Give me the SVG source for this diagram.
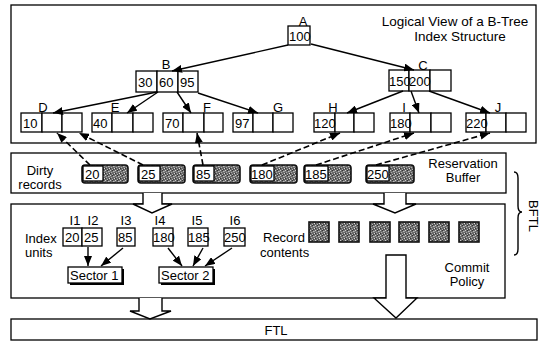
<svg xmlns="http://www.w3.org/2000/svg" width="542" height="342" viewBox="0 0 542 342">
<style>
text{font-family:"Liberation Sans",Arial,sans-serif;font-size:13px;fill:#000}
.c{text-anchor:middle}
.box{fill:#fff;stroke:#000;stroke-width:1.3}
.frame{fill:none;stroke:#000;stroke-width:1.3}
.ln{fill:none;stroke:#000;stroke-width:1.4;marker-end:url(#ah)}
.dl{fill:none;stroke:#000;stroke-width:1.6;stroke-dasharray:6,3;marker-end:url(#ah)}
.blk{fill:#fff;stroke:#000;stroke-width:1.4;stroke-linejoin:miter}
.rec{fill:url(#stip);stroke:#111;stroke-width:1.6}
</style>
<defs>
<marker id="ah" viewBox="0 0 10 8" refX="10" refY="4" markerWidth="10" markerHeight="8" markerUnits="userSpaceOnUse" orient="auto"><path d="M0,0 L10,4 L0,8 z" fill="#000"/></marker>
<pattern id="stip" width="5" height="5" patternUnits="userSpaceOnUse"><rect width="5" height="5" fill="#6a6a6a"/><rect x="0" y="0" width="1" height="1" fill="#ccc"/><rect x="3" y="1" width="1" height="1" fill="#bbb"/><rect x="1" y="2" width="1" height="1" fill="#aaa"/><rect x="4" y="3" width="1" height="1" fill="#ddd"/><rect x="2" y="4" width="1" height="1" fill="#b5b5b5"/><rect x="2" y="0" width="1" height="1" fill="#333"/><rect x="0" y="3" width="1" height="1" fill="#333"/><rect x="4" y="1" width="1" height="1" fill="#999"/><rect x="3" y="4" width="1" height="1" fill="#444"/></pattern>
</defs>
<rect width="542" height="342" fill="#fff"/>

<g id="frames">
<rect class="frame" x="11" y="5" width="525" height="138"/>
<rect class="frame" x="11" y="153" width="495" height="40"/>
<rect class="frame" x="11" y="204" width="494" height="94"/>
<rect class="frame" x="11" y="319" width="526" height="21"/>
</g>

<g id="title">
<text x="455" y="26" class="c" style="font-size:13.5px">Logical View of a B-Tree</text>
<text x="460" y="41" class="c" style="font-size:13.5px">Index Structure</text>
</g>

<g id="nodeA">
<rect class="box" x="288" y="26" width="22" height="19"/>
<text x="289" y="41">100</text>
<text x="303" y="26" class="c">A</text>
</g>
<g id="nodeB">
<rect class="box" x="136" y="71" width="21" height="21"/>
<rect class="box" x="157" y="71" width="21" height="21"/>
<rect class="box" x="178" y="71" width="20" height="21"/>
<text x="138" y="87">30</text><text x="159" y="87">60</text><text x="180" y="87">95</text>
<text x="166" y="69" class="c">B</text>
</g>
<g id="nodeC">
<rect class="box" x="389" y="70" width="20" height="21"/>
<rect class="box" x="409" y="70" width="21" height="21"/>
<rect class="box" x="430" y="70" width="21" height="21"/>
<text x="389" y="86">150</text><text x="409" y="86">200</text>
<text x="423" y="70" class="c">C</text>
</g>
<g id="nodeD">
<rect class="box" x="21" y="113" width="21" height="19"/><rect class="box" x="42" y="113" width="20" height="19"/><rect class="box" x="62" y="113" width="20" height="19"/>
<text x="23" y="128">10</text><text x="43" y="112" class="c">D</text>
</g>
<g id="nodeE">
<rect class="box" x="92" y="113" width="20" height="19"/><rect class="box" x="112" y="113" width="21" height="19"/><rect class="box" x="133" y="113" width="20" height="19"/>
<text x="93" y="128">40</text><text x="115" y="112" class="c">E</text>
</g>
<g id="nodeF">
<rect class="box" x="163" y="113" width="20" height="19"/><rect class="box" x="183" y="113" width="21" height="19"/><rect class="box" x="204" y="113" width="19" height="19"/>
<text x="165" y="128">70</text><text x="207" y="112" class="c">F</text>
</g>
<g id="nodeG">
<rect class="box" x="233" y="113" width="20" height="19"/><rect class="box" x="253" y="113" width="20" height="19"/><rect class="box" x="273" y="113" width="20" height="19"/>
<text x="235" y="128">97</text><text x="278" y="112" class="c">G</text>
</g>
<g id="nodeH">
<rect class="box" x="314" y="113" width="21" height="19"/><rect class="box" x="335" y="113" width="19" height="19"/><rect class="box" x="354" y="113" width="20" height="19"/>
<text x="314" y="128">120</text><text x="333" y="112" class="c">H</text>
</g>
<g id="nodeI">
<rect class="box" x="390" y="113" width="20" height="19"/><rect class="box" x="410" y="113" width="21" height="19"/><rect class="box" x="431" y="113" width="20" height="19"/>
<text x="390" y="128">180</text><text x="404" y="112" class="c">I</text>
</g>
<g id="nodeJ">
<rect class="box" x="466" y="113" width="20" height="19"/><rect class="box" x="486" y="113" width="20" height="19"/><rect class="box" x="506" y="113" width="20" height="19"/>
<text x="466" y="128">220</text><text x="498" y="112" class="c">J</text>
</g>

<g id="buffer">
<text x="40" y="175" class="c">Dirty</text>
<text x="40" y="189" class="c">records</text>
<text x="463" y="168" class="c">Reservation</text>
<text x="463" y="182" class="c">Buffer</text>
</g>
<g id="rec20"><rect class="rec" x="82" y="165" width="46" height="18" rx="3"/><rect class="box" x="83" y="166" width="20" height="15"/><text x="85" y="179">20</text></g>
<g id="rec25"><rect class="rec" x="138" y="165" width="47" height="18" rx="3"/><rect class="box" x="139" y="166" width="21" height="15"/><text x="141" y="179">25</text></g>
<g id="rec85"><rect class="rec" x="193" y="165" width="47" height="18" rx="3"/><rect class="box" x="194" y="166" width="20" height="15"/><text x="196" y="179">85</text></g>
<g id="rec180"><rect class="rec" x="250" y="165" width="47" height="18" rx="3"/><rect class="box" x="251" y="166" width="23" height="15"/><text x="251" y="179">180</text></g>
<g id="rec185"><rect class="rec" x="304" y="165" width="47" height="18" rx="3"/><rect class="box" x="305" y="166" width="23" height="15"/><text x="305" y="179">185</text></g>
<g id="rec250"><rect class="rec" x="366" y="165" width="48" height="18" rx="3"/><rect class="box" x="367" y="166" width="22" height="15"/><text x="367" y="179">250</text></g>

<g id="bftl">
<path d="M514,172 Q518,172 518,178 L518,206 Q518,212 522,212 Q518,212 518,218 L518,249 Q518,255 514,255" fill="none" stroke="#000" stroke-width="1.4"/>
<text x="529" y="216" class="c" transform="rotate(90 529 216)">BFTL</text>
</g>

<g id="indexunits">
<text x="25" y="243">Index</text>
<text x="25" y="257">units</text>
<rect class="box" x="63" y="228" width="19" height="18"/><rect class="box" x="82" y="228" width="20" height="18"/>
<rect class="box" x="117" y="228" width="18" height="18"/>
<rect class="box" x="153" y="228" width="20" height="18"/>
<rect class="box" x="188" y="228" width="20" height="18"/>
<rect class="box" x="224" y="228" width="21" height="18"/>
<text x="65" y="242">20</text><text x="84" y="242">25</text><text x="118" y="242">85</text>
<text x="153" y="242">180</text><text x="188" y="242">185</text><text x="224" y="242">250</text>
<text x="75" y="225" class="c">I1</text><text x="93" y="225" class="c">I2</text><text x="126" y="225" class="c">I3</text>
<text x="160" y="225" class="c">I4</text><text x="197" y="225" class="c">I5</text><text x="235" y="225" class="c">I6</text>
</g>
<g id="sector1"><rect x="70" y="269" width="54" height="16" fill="#000"/><rect class="box" x="68" y="267" width="54" height="16"/><text x="70" y="280">Sector 1</text></g>
<g id="sector2"><rect x="161" y="269" width="54" height="16" fill="#000"/><rect class="box" x="159" y="267" width="54" height="16"/><text x="161" y="280">Sector 2</text></g>

<g id="records">
<text x="263" y="242">Record</text>
<text x="260" y="257">contents</text>
<rect class="rec" x="309" y="222" width="20" height="20"/>
<rect class="rec" x="339" y="222" width="20" height="20"/>
<rect class="rec" x="370" y="222" width="20" height="20"/>
<rect class="rec" x="399" y="222" width="20" height="20"/>
<rect class="rec" x="429" y="222" width="20" height="20"/>
<rect class="rec" x="459" y="222" width="20" height="20"/>
</g>
<g id="commit">
<text x="467" y="272" class="c">Commit</text>
<text x="467" y="286" class="c">Policy</text>
</g>
<g id="ftl"><text x="276" y="335" class="c">FTL</text></g>

<g id="connectors">
<path class="ln" d="M288,45 L172,71"/>
<path class="ln" d="M311,44 L414,70"/>
<path class="ln" d="M157,92 L53,113"/>
<path class="ln" d="M158,92 L127,113"/>
<path class="ln" d="M177,92 L191,113"/>
<path class="ln" d="M198,93 L258,113"/>
<path class="ln" d="M403,91 L347,113"/>
<path class="ln" d="M411,91 L419,113"/>
<path class="ln" d="M429,91 L490,113"/>
<path class="dl" d="M90,165 L57,133"/>
<path class="dl" d="M143,165 L79,133"/>
<path class="dl" d="M203,165 L197,133"/>
<path class="dl" d="M262,165 L340,133"/>
<path class="dl" d="M316,165 L414,133"/>
<path class="dl" d="M376,165 L490,133"/>
<path class="ln" d="M88,247 L88,266"/>
<path class="ln" d="M123,248 L101,266"/>
<path class="ln" d="M168,248 L182,266"/>
<path class="ln" d="M203,248 L193,266"/>
<path class="ln" d="M232,248 L205,266"/>
<path class="blk" d="M143,193 L143,204 L133,204 L152,213 L172,204 L162,204 L162,193"/>
<path class="blk" d="M384,193 L384,204 L373,204 L395,213 L416,204 L406,204 L406,193"/>
<path class="blk" d="M139,298 L139,311 L130,311 L150,319 L171,311 L162,311 L162,298"/>
<path class="blk" d="M386,255 L386,298 L374,298 L396,318 L417,298 L406,298 L406,255 Z"/>
</g>
</svg>
